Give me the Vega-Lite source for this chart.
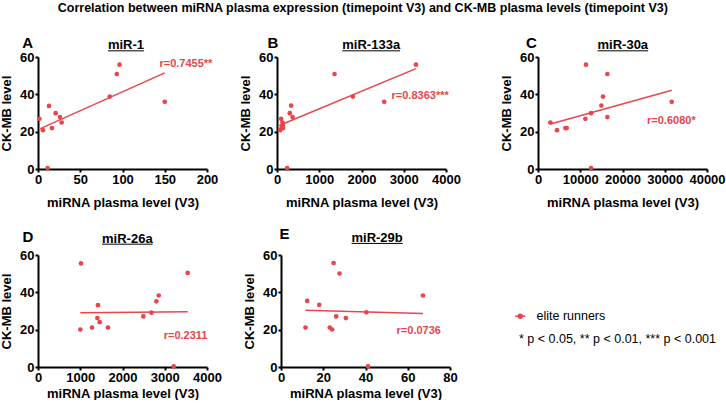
{
  "$schema": "https://vega.github.io/schema/vega-lite/v6.json",
  "padding": {"left": 0, "top": 2, "right": 0, "bottom": 0},
  "title": {"text": "Correlation between miRNA plasma expression (timepoint V3) and CK-MB plasma levels (timepoint V3)", "fontSize": 12.5, "fontWeight": "bold", "color": "#000", "anchor": "middle", "dx": 0, "offset": 11, "baseline": "alphabetic"},
  "datasets": {
    "pts": [
      {"panel": "A", "x": 1.6, "y": 26.9}, {"panel": "A", "x": 5.9, "y": 20.8}, {"panel": "A", "x": 13, "y": 33.8}, {"panel": "A", "x": 11.4, "y": 0.5}, {"panel": "A", "x": 16.5, "y": 21.9}, {"panel": "A", "x": 20.9, "y": 29.9}, {"panel": "A", "x": 26, "y": 27.8}, {"panel": "A", "x": 28, "y": 24.9}, {"panel": "A", "x": 85, "y": 38.8}, {"panel": "A", "x": 93.3, "y": 50.9}, {"panel": "A", "x": 96.5, "y": 55.9}, {"panel": "A", "x": 150, "y": 36},
      {"panel": "B", "x": 75, "y": 20.8}, {"panel": "B", "x": 99, "y": 26.9}, {"panel": "B", "x": 114, "y": 22.3}, {"panel": "B", "x": 130, "y": 24.9}, {"panel": "B", "x": 138, "y": 23.3}, {"panel": "B", "x": 146, "y": 21.9}, {"panel": "B", "x": 241, "y": 0.5}, {"panel": "B", "x": 304, "y": 29.9}, {"panel": "B", "x": 335, "y": 34}, {"panel": "B", "x": 367, "y": 27.8}, {"panel": "B", "x": 1361, "y": 50.9}, {"panel": "B", "x": 1796, "y": 38.8}, {"panel": "B", "x": 2538, "y": 36}, {"panel": "B", "x": 3288, "y": 55.9},
      {"panel": "C", "x": 2920, "y": 24.9}, {"panel": "C", "x": 4499, "y": 20.8}, {"panel": "C", "x": 6472, "y": 21.9}, {"panel": "C", "x": 6788, "y": 21.9}, {"panel": "C", "x": 11365, "y": 55.9}, {"panel": "C", "x": 11208, "y": 26.9}, {"panel": "C", "x": 12549, "y": 29.9}, {"panel": "C", "x": 12549, "y": 0.5}, {"panel": "C", "x": 14996, "y": 34}, {"panel": "C", "x": 15391, "y": 38.8}, {"panel": "C", "x": 16417, "y": 50.9}, {"panel": "C", "x": 16417, "y": 27.8}, {"panel": "C", "x": 31650, "y": 36},
      {"panel": "D", "x": 1018, "y": 55.5}, {"panel": "D", "x": 1002, "y": 20.1}, {"panel": "D", "x": 1279, "y": 21.1}, {"panel": "D", "x": 1420, "y": 33.1}, {"panel": "D", "x": 1405, "y": 26.2}, {"panel": "D", "x": 1460, "y": 24}, {"panel": "D", "x": 1657, "y": 21.1}, {"panel": "D", "x": 2494, "y": 27.1}, {"panel": "D", "x": 2683, "y": 29.1}, {"panel": "D", "x": 2802, "y": 35.2}, {"panel": "D", "x": 2857, "y": 38.3}, {"panel": "D", "x": 3544, "y": 50.4}, {"panel": "D", "x": 3212, "y": 0.3},
      {"panel": "E", "x": 11.6, "y": 21.1}, {"panel": "E", "x": 12.4, "y": 35.4}, {"panel": "E", "x": 18.1, "y": 33.3}, {"panel": "E", "x": 23.1, "y": 21.1}, {"panel": "E", "x": 24.2, "y": 20.1}, {"panel": "E", "x": 24.9, "y": 55.7}, {"panel": "E", "x": 26.1, "y": 27.1}, {"panel": "E", "x": 27.7, "y": 50.1}, {"panel": "E", "x": 30.7, "y": 26.2}, {"panel": "E", "x": 40.4, "y": 29.3}, {"panel": "E", "x": 41.2, "y": 0.3}, {"panel": "E", "x": 67.2, "y": 38.3}
    ],
    "fit": [
      {"panel": "A", "x": 2, "y": 21.5}, {"panel": "A", "x": 150, "y": 51.5},
      {"panel": "B", "x": 51, "y": 23.3}, {"panel": "B", "x": 3288, "y": 53.8},
      {"panel": "C", "x": 2762, "y": 24}, {"panel": "C", "x": 31650, "y": 42.2},
      {"panel": "D", "x": 1002, "y": 29.1}, {"panel": "D", "x": 3544, "y": 29.6},
      {"panel": "E", "x": 11.6, "y": 30.4}, {"panel": "E", "x": 67.2, "y": 28.6}
    ],
    "ann": [
      {"panel": "A", "x": 143.7, "y": 56.4, "label": "r=0.7455**"},
      {"panel": "B", "x": 2711, "y": 39.2, "label": "r=0.8363***"},
      {"panel": "C", "x": 25809, "y": 25.6, "label": "r=0.6080*"},
      {"panel": "D", "x": 2975, "y": 16.6, "label": "r=0.2311"},
      {"panel": "E", "x": 54.7, "y": 19.2, "label": "r=0.0736"}
    ]
  },
  "vconcat": [
    {
      "hconcat": [
        {
          "hconcat": [
            {
              "width": 169, "height": 112,
              "layer": [
                {"data": {"name": "pts"}, "transform": [{"filter": "datum.panel === 'A'"}], "mark": {"type": "circle", "size": 22, "opacity": 1},
                 "encoding": {
                   "x": {"field": "x", "type": "quantitative", "scale": {"domain": [0, 200], "nice": false, "zero": false}, "axis": {"values": [0, 50, 100, 150, 200], "title": "miRNA plasma level (V3)", "titlePadding": 10}},
                   "y": {"field": "y", "type": "quantitative", "scale": {"domain": [0, 60], "nice": false}, "axis": {"tickCount": 4, "title": "CK-MB level"}},
                   "color": {"datum": "elite runners", "type": "nominal", "scale": {"range": ["#e8454c"]}, "legend": {"title": "* p < 0.05, ** p < 0.01, *** p < 0.001", "symbolType": "M-1,0L1,0M-0.4,0A0.4,0.4,0,1,0,0.4,0A0.4,0.4,0,1,0,-0.4,0Z", "symbolStrokeColor": "#e8454c", "symbolStrokeWidth": 1.5, "symbolOffset": -5}}
                 }},
                {"data": {"name": "fit"}, "transform": [{"filter": "datum.panel === 'A'"}], "mark": {"type": "line", "color": "#e8454c", "strokeWidth": 1.5},
                 "encoding": {"x": {"field": "x", "type": "quantitative"}, "y": {"field": "y", "type": "quantitative"}}},
                {"data": {"name": "ann"}, "transform": [{"filter": "datum.panel === 'A'"}], "mark": {"type": "text", "align": "left", "baseline": "middle", "fontSize": 11, "fontWeight": "bold", "color": "#e8454c"},
                 "encoding": {"x": {"field": "x", "type": "quantitative"}, "y": {"field": "y", "type": "quantitative"}, "text": {"field": "label"}}},
                {"data": {"values": [{}]}, "mark": {"type": "text", "text": "A", "fontSize": 15, "fontWeight": "bold", "align": "center", "baseline": "alphabetic", "color": "#000"},
                 "encoding": {"x": {"datum": -12.1}, "y": {"datum": 65}}},
                {"data": {"values": [{}]}, "mark": {"type": "text", "text": "miR-1", "fontSize": 13, "fontWeight": "bold", "align": "center", "baseline": "alphabetic", "color": "#000"},
                 "encoding": {"x": {"datum": 104.1}, "y": {"datum": 64.1}}},
                {"data": {"values": [{}]}, "mark": {"type": "rule", "strokeWidth": 1, "color": "#000"},
                 "encoding": {"x": {"datum": 82.7}, "x2": {"datum": 125.5}, "y": {"datum": 63.3}}}
              ]
            },
            {
              "width": 169, "height": 112,
              "layer": [
                {"data": {"name": "pts"}, "transform": [{"filter": "datum.panel === 'B'"}], "mark": {"type": "circle", "size": 22, "opacity": 1},
                 "encoding": {
                   "x": {"field": "x", "type": "quantitative", "scale": {"domain": [0, 4000], "nice": false, "zero": false}, "axis": {"values": [0, 1000, 2000, 3000, 4000], "format": "d", "title": "miRNA plasma level (V3)", "titlePadding": 10}},
                   "y": {"field": "y", "type": "quantitative", "scale": {"domain": [0, 60], "nice": false}, "axis": {"tickCount": 4, "title": "CK-MB level"}},
                   "color": {"datum": "elite runners", "type": "nominal", "scale": {"range": ["#e8454c"]}, "legend": {"title": "* p < 0.05, ** p < 0.01, *** p < 0.001", "symbolType": "M-1,0L1,0M-0.4,0A0.4,0.4,0,1,0,0.4,0A0.4,0.4,0,1,0,-0.4,0Z", "symbolStrokeColor": "#e8454c", "symbolStrokeWidth": 1.5, "symbolOffset": -5}}
                 }},
                {"data": {"name": "fit"}, "transform": [{"filter": "datum.panel === 'B'"}], "mark": {"type": "line", "color": "#e8454c", "strokeWidth": 1.5},
                 "encoding": {"x": {"field": "x", "type": "quantitative"}, "y": {"field": "y", "type": "quantitative"}}},
                {"data": {"name": "ann"}, "transform": [{"filter": "datum.panel === 'B'"}], "mark": {"type": "text", "align": "left", "baseline": "middle", "fontSize": 11, "fontWeight": "bold", "color": "#e8454c"},
                 "encoding": {"x": {"field": "x", "type": "quantitative"}, "y": {"field": "y", "type": "quantitative"}, "text": {"field": "label"}}},
                {"data": {"values": [{}]}, "mark": {"type": "text", "text": "B", "fontSize": 15, "fontWeight": "bold", "align": "center", "baseline": "alphabetic", "color": "#000"},
                 "encoding": {"x": {"datum": -97}, "y": {"datum": 65}}},
                {"data": {"values": [{}]}, "mark": {"type": "text", "text": "miR-133a", "fontSize": 13, "fontWeight": "bold", "align": "center", "baseline": "alphabetic", "color": "#000"},
                 "encoding": {"x": {"datum": 2230}, "y": {"datum": 64.1}}},
                {"data": {"values": [{}]}, "mark": {"type": "rule", "strokeWidth": 1, "color": "#000"},
                 "encoding": {"x": {"datum": 1546}, "x2": {"datum": 2914}, "y": {"datum": 63.3}}}
              ]
            }
          ],
          "spacing": 21
        },
        {
          "width": 169, "height": 112,
          "layer": [
            {"data": {"name": "pts"}, "transform": [{"filter": "datum.panel === 'C'"}], "mark": {"type": "circle", "size": 22, "opacity": 1},
             "encoding": {
               "x": {"field": "x", "type": "quantitative", "scale": {"domain": [0, 40000], "nice": false, "zero": false}, "axis": {"values": [0, 10000, 20000, 30000, 40000], "format": "d", "title": "miRNA plasma level (V3)", "titlePadding": 10}},
               "y": {"field": "y", "type": "quantitative", "scale": {"domain": [0, 60], "nice": false}, "axis": {"tickCount": 4, "title": "CK-MB level"}},
               "color": {"datum": "elite runners", "type": "nominal", "scale": {"range": ["#e8454c"]}, "legend": {"title": "* p < 0.05, ** p < 0.01, *** p < 0.001", "symbolType": "M-1,0L1,0M-0.4,0A0.4,0.4,0,1,0,0.4,0A0.4,0.4,0,1,0,-0.4,0Z", "symbolStrokeColor": "#e8454c", "symbolStrokeWidth": 1.5, "symbolOffset": -5}}
             }},
            {"data": {"name": "fit"}, "transform": [{"filter": "datum.panel === 'C'"}], "mark": {"type": "line", "color": "#e8454c", "strokeWidth": 1.5},
             "encoding": {"x": {"field": "x", "type": "quantitative"}, "y": {"field": "y", "type": "quantitative"}}},
            {"data": {"name": "ann"}, "transform": [{"filter": "datum.panel === 'C'"}], "mark": {"type": "text", "align": "left", "baseline": "middle", "fontSize": 11, "fontWeight": "bold", "color": "#e8454c"},
             "encoding": {"x": {"field": "x", "type": "quantitative"}, "y": {"field": "y", "type": "quantitative"}, "text": {"field": "label"}}},
            {"data": {"values": [{}]}, "mark": {"type": "text", "text": "C", "fontSize": 15, "fontWeight": "bold", "align": "center", "baseline": "alphabetic", "color": "#000"},
             "encoding": {"x": {"datum": -1538}, "y": {"datum": 65}}},
            {"data": {"values": [{}]}, "mark": {"type": "text", "text": "miR-30a", "fontSize": 13, "fontWeight": "bold", "align": "center", "baseline": "alphabetic", "color": "#000"},
             "encoding": {"x": {"datum": 20071}, "y": {"datum": 64.1}}},
            {"data": {"values": [{}]}, "mark": {"type": "rule", "strokeWidth": 1, "color": "#000"},
             "encoding": {"x": {"datum": 14083}, "x2": {"datum": 26059}, "y": {"datum": 63.3}}}
          ]
        }
      ],
      "spacing": 39
    },
    {
      "hconcat": [
        {
          "width": 169, "height": 112,
          "layer": [
            {"data": {"name": "pts"}, "transform": [{"filter": "datum.panel === 'D'"}], "mark": {"type": "circle", "size": 22, "opacity": 1},
             "encoding": {
               "x": {"field": "x", "type": "quantitative", "scale": {"domain": [0, 4000], "nice": false, "zero": false}, "axis": {"values": [0, 1000, 2000, 3000, 4000], "format": "d", "title": "miRNA plasma level (V3)", "titlePadding": 3}},
               "y": {"field": "y", "type": "quantitative", "scale": {"domain": [0, 60], "nice": false}, "axis": {"tickCount": 4, "title": "CK-MB level"}},
               "color": {"datum": "elite runners", "type": "nominal", "scale": {"range": ["#e8454c"]}, "legend": {"title": "* p < 0.05, ** p < 0.01, *** p < 0.001", "symbolType": "M-1,0L1,0M-0.4,0A0.4,0.4,0,1,0,0.4,0A0.4,0.4,0,1,0,-0.4,0Z", "symbolStrokeColor": "#e8454c", "symbolStrokeWidth": 1.5, "symbolOffset": -5}}
             }},
            {"data": {"name": "fit"}, "transform": [{"filter": "datum.panel === 'D'"}], "mark": {"type": "line", "color": "#e8454c", "strokeWidth": 1.5},
             "encoding": {"x": {"field": "x", "type": "quantitative"}, "y": {"field": "y", "type": "quantitative"}}},
            {"data": {"name": "ann"}, "transform": [{"filter": "datum.panel === 'D'"}], "mark": {"type": "text", "align": "left", "baseline": "middle", "fontSize": 11, "fontWeight": "bold", "color": "#e8454c"},
             "encoding": {"x": {"field": "x", "type": "quantitative"}, "y": {"field": "y", "type": "quantitative"}, "text": {"field": "label"}}},
            {"data": {"values": [{}]}, "mark": {"type": "text", "text": "D", "fontSize": 15, "fontWeight": "bold", "align": "center", "baseline": "alphabetic", "color": "#000"},
             "encoding": {"x": {"datum": -241}, "y": {"datum": 67}}},
            {"data": {"values": [{}]}, "mark": {"type": "text", "text": "miR-26a", "fontSize": 13, "fontWeight": "bold", "align": "center", "baseline": "alphabetic", "color": "#000"},
             "encoding": {"x": {"datum": 2114}, "y": {"datum": 66.6}}},
            {"data": {"values": [{}]}, "mark": {"type": "rule", "strokeWidth": 1, "color": "#000"},
             "encoding": {"x": {"datum": 1515}, "x2": {"datum": 2713}, "y": {"datum": 65.8}}}
          ]
        },
        {
          "width": 169, "height": 112,
          "layer": [
            {"data": {"name": "pts"}, "transform": [{"filter": "datum.panel === 'E'"}], "mark": {"type": "circle", "size": 22, "opacity": 1},
             "encoding": {
               "x": {"field": "x", "type": "quantitative", "scale": {"domain": [0, 80], "nice": false, "zero": false}, "axis": {"values": [0, 20, 40, 60, 80], "title": "miRNA plasma level (V3)", "titlePadding": 3}},
               "y": {"field": "y", "type": "quantitative", "scale": {"domain": [0, 60], "nice": false}, "axis": {"tickCount": 4, "title": "CK-MB level"}},
               "color": {"datum": "elite runners", "type": "nominal", "scale": {"range": ["#e8454c"]}, "legend": {"title": "* p < 0.05, ** p < 0.01, *** p < 0.001", "symbolType": "M-1,0L1,0M-0.4,0A0.4,0.4,0,1,0,0.4,0A0.4,0.4,0,1,0,-0.4,0Z", "symbolStrokeColor": "#e8454c", "symbolStrokeWidth": 1.5, "symbolOffset": -5}}
             }},
            {"data": {"name": "fit"}, "transform": [{"filter": "datum.panel === 'E'"}], "mark": {"type": "line", "color": "#e8454c", "strokeWidth": 1.5},
             "encoding": {"x": {"field": "x", "type": "quantitative"}, "y": {"field": "y", "type": "quantitative"}}},
            {"data": {"name": "ann"}, "transform": [{"filter": "datum.panel === 'E'"}], "mark": {"type": "text", "align": "left", "baseline": "middle", "fontSize": 11, "fontWeight": "bold", "color": "#e8454c"},
             "encoding": {"x": {"field": "x", "type": "quantitative"}, "y": {"field": "y", "type": "quantitative"}, "text": {"field": "label"}}},
            {"data": {"values": [{}]}, "mark": {"type": "text", "text": "E", "fontSize": 15, "fontWeight": "bold", "align": "center", "baseline": "alphabetic", "color": "#000"},
             "encoding": {"x": {"datum": 1.7}, "y": {"datum": 68.8}}},
            {"data": {"values": [{}]}, "mark": {"type": "text", "text": "miR-29b", "fontSize": 13, "fontWeight": "bold", "align": "center", "baseline": "alphabetic", "color": "#000"},
             "encoding": {"x": {"datum": 45.5}, "y": {"datum": 67}}},
            {"data": {"values": [{}]}, "mark": {"type": "rule", "strokeWidth": 1, "color": "#000"},
             "encoding": {"x": {"datum": 33.4}, "x2": {"datum": 57.6}, "y": {"datum": 66.2}}}
          ]
        }
      ],
      "spacing": 21
    }
  ],
  "spacing": 17,
  "config": {
    "font": "Liberation Sans",
    "view": {"stroke": null},
    "axis": {"domainColor": "#000", "domainWidth": 2, "tickColor": "#000", "tickWidth": 2, "tickSize": 3, "labelFontSize": 13, "labelFontWeight": "bold", "labelColor": "#000", "labelPadding": 1, "labelFlush": false, "labelOverlap": false, "titleFontSize": 13, "titleFontWeight": "bold", "titleColor": "#000", "grid": false},
    "axisX": {"titlePadding": 8},
    "axisY": {"titlePadding": 6},
    "legend": {"orient": "none", "legendX": 481, "legendY": 253, "titleOrient": "bottom", "titleAnchor": "start", "titleFontWeight": "normal", "titleFontSize": 12.5, "titleColor": "#000", "titleLimit": 400, "titlePadding": 10, "labelFontSize": 12.5, "labelColor": "#000", "labelOffset": 10, "symbolSize": 100, "symbolStrokeWidth": 1.5}
  }
}
